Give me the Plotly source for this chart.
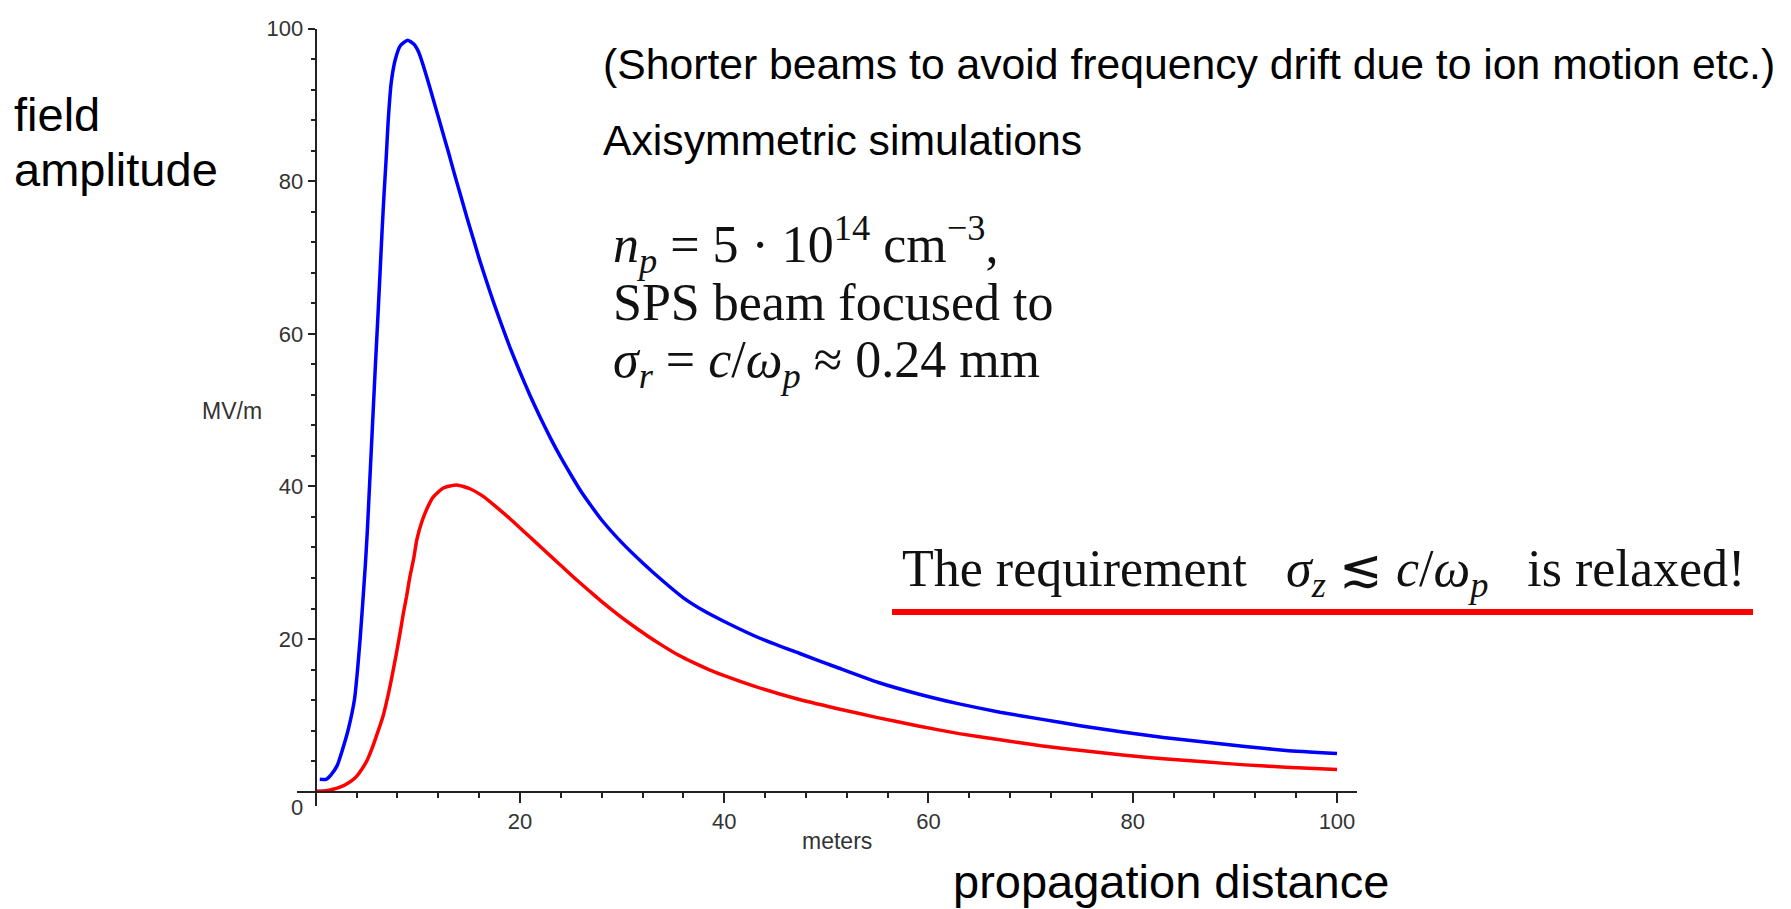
import plotly.graph_objects as go

W, H = 1791, 909

# ---- data ----
blue_x = [0.4, 1.0, 1.5, 2.1, 2.6, 3.2, 3.8, 4.1, 4.35, 4.6, 4.85, 5.05, 5.25, 5.45, 5.65, 5.85,
          6.1, 6.3, 6.5, 6.7, 6.9, 7.1, 7.4, 7.8, 8.3, 9.0, 9.6, 10.1, 10.6, 11.2, 11.8, 12.4,
          13.0, 13.6, 14.2, 14.8, 15.4, 16.0, 16.7, 17.4, 18.2, 19.0, 20.0, 21.0, 22.0, 23.0,
          24.0, 25.0, 26.0, 27.0, 28.0, 30.0, 32.0, 34.0, 36.0, 38.0, 40.0, 43.5, 47.4, 51.2,
          55.1, 59.0, 63.0, 67.0, 71.0, 75.0, 79.0, 83.0, 87.0, 91.0, 95.0, 100.0]
blue_y = [1.6, 1.6, 2.2, 3.4, 5.4, 8.2, 12.1, 16.0, 20.0, 24.6, 29.5, 34.0, 39.5, 45.0, 50.5, 56.0,
          62.5, 68.0, 73.5, 78.5, 83.0, 88.0, 93.0, 96.0, 97.8, 98.5, 98.0, 96.9, 94.9, 92.2, 89.4, 86.6,
          83.8, 80.9, 78.1, 75.3, 72.6, 69.9, 67.0, 64.2, 61.2, 58.3, 55.0, 51.9, 49.0, 46.3,
          43.8, 41.5, 39.3, 37.4, 35.6, 32.6, 30.0, 27.6, 25.4, 23.7, 22.3, 20.1, 18.1, 16.2,
          14.3, 12.8, 11.5, 10.4, 9.5, 8.6, 7.8, 7.1, 6.5, 5.9, 5.4, 5.0]

red_x = [0.1, 1.0, 1.7, 2.3, 2.9, 3.5, 4.0, 4.5, 5.0, 5.5, 5.9, 6.6, 7.1, 7.5, 7.9, 8.3, 8.6, 8.9,
         9.2, 9.6, 9.9, 10.4, 10.9, 11.5, 12.5, 13.8, 15.1, 16.4, 17.7, 19.0, 20.3, 21.6, 22.9,
         24.2, 25.5, 26.8, 28.1, 29.5, 31.0, 32.5, 34.0, 35.5, 37.0, 38.5, 40.0, 43.0, 47.0,
         51.0, 55.0, 59.0, 63.0, 67.0, 71.0, 75.0, 79.0, 83.0, 87.0, 91.0, 95.0, 100.0]
red_y = [0.05, 0.1, 0.3, 0.55, 0.9, 1.4, 2.0, 2.9, 4.0, 5.6, 7.1, 9.9, 12.7, 15.3, 18.1, 21.1, 23.5, 25.6,
         28.0, 30.6, 33.0, 35.4, 37.1, 38.6, 39.8, 40.2, 39.7, 38.7, 37.3, 35.8, 34.2, 32.6, 31.0,
         29.4, 27.8, 26.3, 24.8, 23.3, 21.8, 20.4, 19.1, 17.9, 16.9, 16.0, 15.2, 13.8, 12.2,
         10.9, 9.7, 8.6, 7.6, 6.8, 6.0, 5.4, 4.8, 4.3, 3.9, 3.5, 3.2, 2.9]

x_ticks = [0, 20, 40, 60, 80, 100]
x_tick_text = ["", "20", "40", "60", "80", "100"]
y_ticks = [0, 20, 40, 60, 80, 100]
y_tick_text = ["", "20", "40", "60", "80", "100"]

# ---- pixel geometry helpers ----
def px(x):
    return x / W

def py(y):
    return 1 - y / H

fig = go.Figure()
fig.add_trace(go.Scatter(x=blue_x, y=blue_y, mode="lines", line_shape="spline",
                         line=dict(color="#0000ff", width=3.5, smoothing=0.5),
                         showlegend=False, hoverinfo="skip"))
fig.add_trace(go.Scatter(x=red_x, y=red_y, mode="lines", line_shape="spline",
                         line=dict(color="#ff0000", width=3.5, smoothing=0.5),
                         showlegend=False, hoverinfo="skip"))

axis_col = "#222222"
tick_font = dict(family="Arial, Liberation Sans, sans-serif", size=22, color="#333333")

fig.update_layout(
    width=W, height=H, autosize=False,
    margin=dict(l=0, r=0, t=0, b=0),
    paper_bgcolor="white", plot_bgcolor="white",
    xaxis=dict(
        domain=[px(296.7), px(1356.7)], range=[-1.86, 101.93],
        anchor="free", position=py(790),
        showgrid=False, zeroline=False,
        showline=True, linecolor=axis_col, linewidth=2,
        tickmode="array", tickvals=x_ticks, ticktext=x_tick_text,
        ticks="outside", ticklen=10, tickwidth=2, tickcolor=axis_col,
        minor=dict(tickmode="linear", tick0=0, dtick=4, ticks="outside",
                   ticklen=5, tickwidth=2, tickcolor=axis_col, showgrid=False),
        tickfont=tick_font,
    ),
    yaxis=dict(
        domain=[py(805), py(17)], range=[-1.94, 100],
        anchor="free", position=px(315.7),
        showgrid=False, zeroline=False,
        showline=True, linecolor=axis_col, linewidth=2,
        tickmode="array", tickvals=y_ticks, ticktext=y_tick_text,
        ticks="outside", ticklen=7, tickwidth=2, tickcolor=axis_col,
        minor=dict(tickmode="linear", tick0=0, dtick=4, ticks="outside",
                   ticklen=4, tickwidth=2, tickcolor=axis_col, showgrid=False),
        tickfont=tick_font,
    ),
)

sans = "Arial, Liberation Sans, sans-serif"
serif = "Liberation Serif, Times New Roman, serif"

def ann(text, x, y, size, family=sans, color="#000000", xanchor="left"):
    fig.add_annotation(text=text, x=px(x), y=py(y), xref="paper", yref="paper",
                       xanchor=xanchor, yanchor="middle", showarrow=False,
                       font=dict(family=family, size=size, color=color))

# origin label
fig.add_annotation(text="0", x=0, y=0, xref="x", yref="y", xanchor="right", yanchor="top",
                   xshift=-11, yshift=-1, showarrow=False, font=tick_font)

# axis unit labels
ann("MV/m", 200, 404, 23, color="#333333")
ann("meters", 836.5, 840, 23, color="#333333", xanchor="center")

# big slide labels
ann("field", 12, 104, 47)
ann("amplitude", 12, 160, 47)
ann("propagation distance", 951, 881, 47)

ann("(Shorter beams to avoid frequency drift due to ion motion etc.)", 601, 53, 42.7)
ann("Axisymmetric simulations", 601, 130, 42.7)

ann("<i>n</i><sub><i>p</i></sub> = 5 · 10<sup>14</sup> cm<sup>−3</sup>,", 611, 236, 52, family=serif, color="#111111")
ann("SPS beam focused to", 611, 294, 52, family=serif, color="#111111")
ann("<i>σ</i><sub><i>r</i></sub> = <i>c</i>/<i>ω</i><sub><i>p</i></sub> ≈ 0.24 mm", 611, 356, 52, family=serif, color="#111111")

ann("The requirement\u00a0\u00a0 <i>σ</i><sub><i>z</i></sub> ≲ <i>c</i>/<i>ω</i><sub><i>p</i></sub>\u00a0\u00a0 is relaxed!",
    900, 568, 52, family=serif, color="#111111")

# red underline
fig.add_shape(type="line", xref="paper", yref="paper",
              x0=px(892), x1=px(1753), y0=py(608), y1=py(608),
              line=dict(color="#ff0000", width=6))

fig.write_html("out.html")
